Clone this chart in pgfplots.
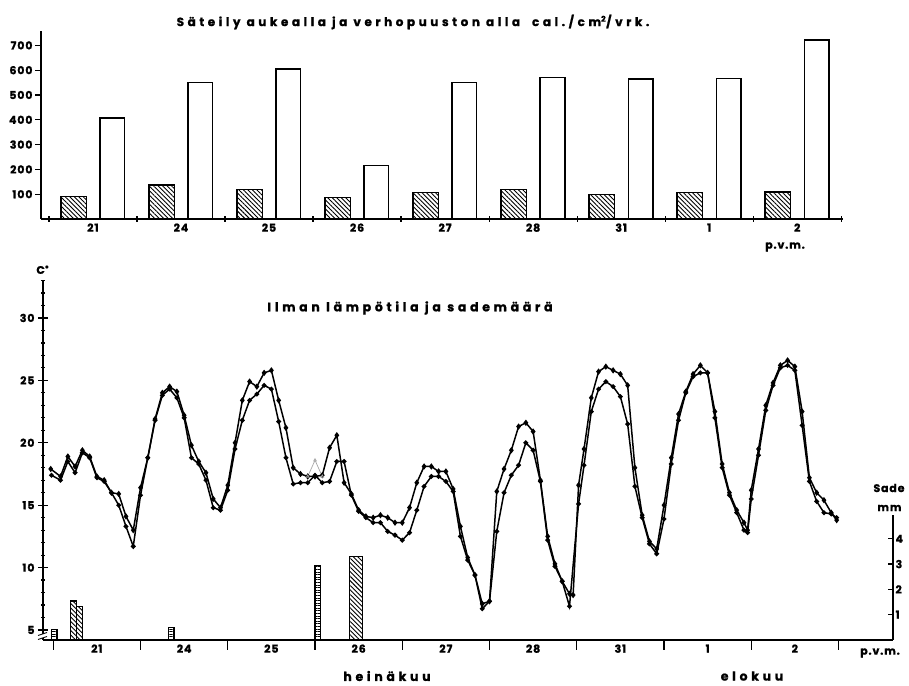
\documentclass[border=0pt]{standalone}
\usepackage{pgfplots}
\pgfplotsset{compat=1.18}
\usepackage{fontspec}
\setmainfont{Poppins}
\newfontfamily\spaced{Poppins}[LetterSpace=30, BoldFeatures={FakeBold=1.2}]
\newfontfamily\lbl{Poppins}[LetterSpace=8, BoldFeatures={FakeBold=1.2}]
\usetikzlibrary{patterns, patterns.meta}

\newcommand{\tickfont}{\lbl\bfseries\fontsize{11}{13}\selectfont}
\newcommand{\titlefont}{\spaced\bfseries\fontsize{12.5}{14}\selectfont}

% Temperature readings every two hours (x = hours from the start of the first day shown)
\pgfplotstableread{
h T
-0.7 17.9
2 17.3
4 18.9
6 18.1
8 19.4
10 18.9
12 17.3
14 17.0
16 16.0
18 15.9
20 14.1
22 13.0
24 16.4
26 18.8
28 21.9
30 24.0
32 24.5
34 24.1
36 22.2
38 19.8
40 18.5
42 17.6
44 15.5
46 14.8
48 16.6
50 20.0
52 23.4
54 24.9
56 24.5
58 25.6
60 25.8
62 23.4
64 21.2
66 18.0
68 17.5
70 17.3
72 17.3
74 17.4
76 19.6
78 20.6
80 16.8
82 15.9
84 14.6
86 14.1
88 14.0
90 14.2
92 14.0
94 13.6
96 13.6
98 14.8
100 16.8
102 18.1
104 18.1
106 17.7
108 17.7
110 16.3
112 13.3
114 10.8
116 9.4
118 7.1
120 7.3
122 16.1
124 17.9
126 19.4
128 21.3
130 21.6
132 20.9
134 17.0
136 12.5
138 10.3
140 8.9
142 7.9
143 7.8
144.5 16.6
146 19.5
148 23.6
150 25.7
152 26.1
154 25.8
156 25.5
158 24.6
160 18.0
162 14.2
164 12.1
166 11.5
168 15.0
170 18.8
172 22.3
174 24.1
176 25.5
178 26.2
180 25.6
182 22.5
184 18.3
186 16.0
188 14.6
190 13.6
191 13.0
192 16.2
194 19.5
196 23.0
198 24.8
200 26.2
202 26.6
204 26.1
206 22.5
208 17.2
210 16.0
212 15.4
214 14.4
215.5 13.8
}\tempopen

\pgfplotstableread{
h T
-0.5 17.4
2 17.0
4 18.5
6 17.6
8 19.2
10 18.8
12 17.2
14 16.9
16 16.0
18 15.0
20 13.3
22 11.7
24 15.8
26 18.8
28 21.8
30 23.8
32 24.3
34 23.6
36 22.0
38 18.8
40 18.3
42 17.0
44 14.8
46 14.6
48 16.2
50 19.5
52 21.8
54 23.4
56 23.9
58 24.6
60 24.3
62 21.7
64 18.8
66 16.7
68 16.8
70 16.8
72 17.4
74 16.8
76 16.9
78 18.5
80 18.5
82 15.8
84 14.5
86 14.0
88 13.6
90 13.6
92 12.9
94 12.6
96 12.2
98 12.8
100 14.6
102 16.5
104 17.3
106 17.3
108 16.9
110 16.1
112 12.5
114 10.6
116 9.4
118 6.7
120 7.3
122 12.9
124 16.0
126 17.4
128 18.2
130 20.0
132 19.4
134 16.9
136 12.2
138 10.1
140 8.9
142 6.9
144.5 15.1
146 18.2
148 22.5
150 24.3
152 24.9
154 24.5
156 23.7
158 21.5
160 16.5
162 14.0
164 11.9
166 11.1
168 13.9
170 18.3
172 21.8
174 24.0
176 25.3
178 25.6
180 25.6
182 22.0
184 18.0
186 15.8
188 14.4
190 13.0
191 12.8
192 15.5
194 19.0
196 22.6
198 24.6
200 26.0
202 26.2
204 25.8
206 21.4
208 16.9
210 15.3
212 14.4
214 14.3
215.5 14.0
}\tempforest

\tikzset{
  hatch/.style={pattern={Lines[angle=-45, distance=3.2pt, line width=0.9pt]}},
  ladder/.style={pattern={Lines[angle=0, distance=2.6pt, line width=0.8pt]}},
}

\pgfplotsset{
  every tick/.style={black, line width=1.2pt},
  every non boxed x axis/.append style={x axis line style={-}},
  every non boxed y axis/.append style={y axis line style={-}},
  every axis/.append style={
    axis line style={line width=1.5pt},
    tick label style={font=\tickfont},
    /pgf/number format/assume math mode=true,
  },
}

\begin{document}
\begin{tikzpicture}[x=1bp, y=1bp]
\path (0,0) rectangle (909,686);

% ---------- radiation, open site vs. under the stand ----------
\begin{axis}[
  at={(41bp,467bp)}, anchor=south west,
  scale only axis, width=802bp, height=188bp,
  xmin=-0.09, xmax=9.02, ymin=0, ymax=758,
  axis x line=bottom, axis y line=left,
  ytick={100,200,...,700},
  y tick label style={xshift=1bp},
  ytick align=outside, major tick length=6bp,
  xtick={0,...,9}, xticklabels={},
  xtick align=center,
  extra x ticks={0.5,1.5,...,8.5},
  extra x tick labels={21,24,25,26,27,28,31,1,2},
  extra x tick style={major tick length=0pt, tick label style={yshift=-1bp}},
  clip=false,
]
\addplot[ybar, bar width=0.29, bar shift=0pt, draw=black, line width=1.4pt, hatch]
  coordinates {(0.28,90) (1.28,137) (2.28,120) (3.28,87) (4.28,107)
               (5.28,120) (6.28,98) (7.28,106) (8.28,109)};
\addplot[ybar, bar width=0.28, bar shift=0pt, draw=black, line width=1.4pt,
  fill=white]
  coordinates {(0.72,407) (1.72,550) (2.72,605) (3.72,215) (4.72,550)
               (5.72,571) (6.72,565) (7.72,566) (8.72,722)};
\end{axis}

\node[font=\titlefont\fontsize{12}{14}\selectfont] at (413,664)
  {Säteily aukealla ja verhopuuston alla\quad cal./cm\textsuperscript{2}/vrk.};
\node[font=\tickfont] at (785,439) {p.v.m.};

% ---------- air temperature ----------
\begin{axis}[
  at={(43bp,46bp)}, anchor=south west,
  scale only axis, width=850bp, height=360bp,
  xmin=-2.83, xmax=231, ymin=4.2, ymax=33.04,
  axis x line=bottom, axis y line=left,
  ytick={5,10,...,30}, minor ytick={5,6,...,33},
  ytick align=center, major tick length=10bp, minor tick length=4bp,
  xtick={0,24,...,216}, xticklabels={},
  xtick align=outside,
  extra x ticks={12,36,...,204},
  extra x tick labels={21,24,25,26,27,28,31,1,2},
  extra x tick style={major tick length=0pt, tick label style={yshift=-1bp}},
  clip=false,
]
\addplot[black, line width=1.5pt, mark=diamond*, mark size=2pt]
  table[x=h, y=T] {\tempopen};
\addplot[black, line width=1.5pt, mark=*, mark size=1.6pt]
  table[x=h, y=T] {\tempforest};
\addplot[gray!70, line width=0.7pt, mark=triangle, mark size=1.6pt]
  coordinates {(70,17.3) (72,18.6) (74,17.3)};
\end{axis}

% ---------- precipitation ----------
\begin{axis}[
  at={(43bp,46bp)}, anchor=south west,
  scale only axis, width=850bp, height=125bp,
  xmin=-2.83, xmax=231, ymin=0, ymax=4.94,
  axis y line*=right, axis x line=none,
  ytick={1,2,3,4}, ytick align=inside, major tick length=5bp,
  y tick label style={xshift=-1bp},
]
\addplot[ybar, bar width=1.4, bar shift=0pt, draw=black, line width=1.1pt, ladder]
  coordinates {(0.33,0.43) (32.5,0.5) (72.7,2.93)};
\addplot[ybar, bar width=1.6, bar shift=0pt, draw=black, line width=1.1pt, hatch]
  coordinates {(5.5,1.54) (7.3,1.33)};
\addplot[ybar, bar width=3.66, bar shift=0pt, draw=black, line width=1.1pt, hatch]
  coordinates {(83.2,3.3)};
\end{axis}

% axis break on the temperature scale
\draw[white, line width=2.5pt] (43,48) -- (43,52);
\draw[black, line width=0.9pt] (38,46.5) -- (47,49.5) (38,50.5) -- (47,53.5);

\node[font=\tickfont] at (43,416) {C$^{\bullet}$};
\node[font=\titlefont] at (410,378) {Ilman lämpötila ja sademäärä};
\node[font=\tickfont] at (880,33) {p.v.m.};
\node[font=\titlefont] at (387,10) {heinäkuu};
\node[font=\titlefont] at (752,10) {elokuu};
\node[font=\tickfont, anchor=east] at (908,198) {Sade};
\node[font=\tickfont, anchor=east] at (905,178) {mm};
\end{tikzpicture}
\end{document}
